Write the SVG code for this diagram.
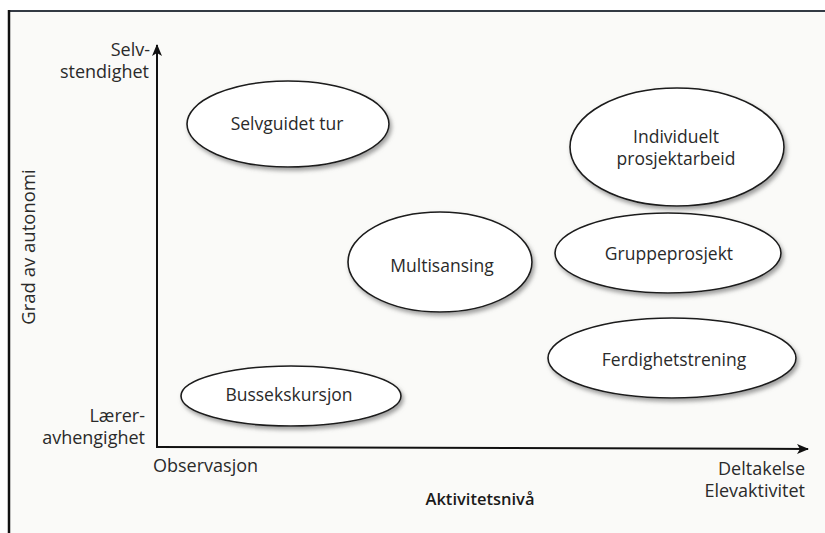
<svg xmlns="http://www.w3.org/2000/svg" width="825" height="533" viewBox="0 0 825 533">
<defs>
<filter id="sh" x="-10%" y="-10%" width="125%" height="135%">
<feDropShadow dx="2" dy="3" stdDeviation="2" flood-color="#777" flood-opacity="0.7"/>
</filter>
<marker id="arr" viewBox="0 0 12 10" refX="11" refY="5" markerWidth="12" markerHeight="10" markerUnits="userSpaceOnUse" orient="auto">
<path d="M0,0 L12,5 L0,10 L3,5 Z" fill="#111"/>
</marker>
<style>
.t{font-family:"Open Sans","Noto Sans",sans-serif;font-size:17.5px;fill:#2a2a2a}
.ax{font-family:"Open Sans","Noto Sans",sans-serif;font-size:18px;fill:#2a2a2a}
.b{font-weight:600;fill:#1a1a1a;font-size:16.5px}
.e{fill:#fff;stroke:#1a1a1a;stroke-width:1.6;filter:url(#sh)}
.axis{stroke:#111;stroke-width:2;fill:none}
</style>
</defs>
<rect x="0" y="0" width="825" height="533" fill="#fff"/>
<rect x="9" y="11" width="816" height="522" fill="#fafaf8"/>
<line x1="8" y1="11" x2="825" y2="11" stroke="#333a44" stroke-width="2"/>
<line x1="9" y1="10" x2="9" y2="533" stroke="#111" stroke-width="2.5"/>

<g id="connectors">
<line class="axis" x1="157" y1="447" x2="157" y2="45" marker-end="url(#arr)"/>
<line class="axis" x1="156" y1="447" x2="808" y2="449" marker-end="url(#arr)"/>
</g>

<g id="axis-labels">
<text class="ax" x="150" y="56" text-anchor="end">Selv-</text>
<text class="ax" x="149" y="78" text-anchor="end">stendighet</text>
<text class="ax" x="145" y="422" text-anchor="end">Lærer-</text>
<text class="ax" x="145" y="444" text-anchor="end">avhengighet</text>
<text class="ax" x="153" y="472">Observasjon</text>
<text class="ax" x="805" y="475" text-anchor="end">Deltakelse</text>
<text class="ax" x="805" y="497" text-anchor="end">Elevaktivitet</text>
<text class="ax b" x="480" y="505" text-anchor="middle">Aktivitetsnivå</text>
<text class="ax" style="font-size:18.5px" transform="translate(35,247) rotate(-90)" text-anchor="middle">Grad av autonomi</text>
</g>

<g id="selvguidet">
<ellipse class="e" cx="288" cy="124" rx="101" ry="43"/>
<text class="t" x="287" y="130" text-anchor="middle">Selvguidet tur</text>
</g>
<g id="individuelt">
<ellipse class="e" cx="677" cy="147" rx="107" ry="59"/>
<text class="t" x="676" y="143" text-anchor="middle">Individuelt</text>
<text class="t" x="676" y="165" text-anchor="middle">prosjektarbeid</text>
</g>
<g id="multisansing">
<ellipse class="e" cx="440" cy="262" rx="92" ry="50"/>
<text class="t" x="442" y="272" text-anchor="middle">Multisansing</text>
</g>
<g id="gruppeprosjekt">
<ellipse class="e" cx="668" cy="253" rx="113" ry="40"/>
<text class="t" x="669" y="260" text-anchor="middle">Gruppeprosjekt</text>
</g>
<g id="ferdighetstrening">
<ellipse class="e" cx="672" cy="358" rx="124" ry="40"/>
<text class="t" x="674" y="366" text-anchor="middle">Ferdighetstrening</text>
</g>
<g id="bussekskursjon">
<ellipse class="e" cx="291" cy="396" rx="110" ry="30"/>
<text class="t" x="289" y="401" text-anchor="middle">Bussekskursjon</text>
</g>
</svg>
